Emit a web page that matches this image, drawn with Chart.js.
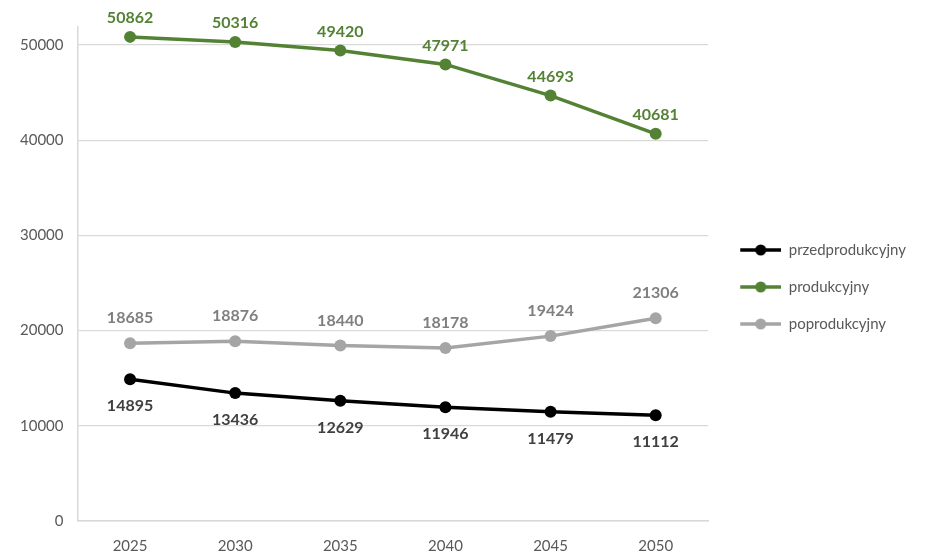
<!DOCTYPE html>
<html>
<head>
<meta charset="utf-8">
<script src="https://cdn.jsdelivr.net/npm/chart.js@4.4.1/dist/chart.umd.min.js"></script>
<style>
  html, body { margin: 0; padding: 0; background: #fff; }
  #wrap { width: 930px; height: 554px; }
</style>
</head>
<body>
<div id="wrap"><canvas id="line"></canvas></div>
<script>
const years = ['2025', '2030', '2035', '2040', '2045', '2050'];
const przedprodukcyjny = [14895, 13436, 12629, 11946, 11479, 11112];
const produkcyjny = [50862, 50316, 49420, 47971, 44693, 40681];
const poprodukcyjny = [18685, 18876, 18440, 18178, 19424, 21306];
const yTicks = [0, 10000, 20000, 30000, 40000, 50000];

const FONT = 'Lato, "Open Sans", sans-serif';

// legend icon: short line with a dot in the middle, like the office legend
function legendIcon(color) {
    const c = document.createElement('canvas');
    c.width = 51; c.height = 14;
    const g = c.getContext('2d');
    g.strokeStyle = color;
    g.lineWidth = 3.5;
    g.beginPath(); g.moveTo(10, 7); g.lineTo(51, 7); g.stroke();
    g.fillStyle = color;
    g.beginPath(); g.arc(30.5, 7, 5.5, 0, Math.PI * 2); g.fill();
    return c;
}

// value labels drawn next to every point
const valueLabels = {
    id: 'valueLabels',
    afterLayout(chart) {
        // legend sits a bit higher than the centre of the canvas
        chart.legend.top -= 12;
        chart.legend.bottom -= 12;
    },
    afterDatasetsDraw(chart) {
        const ctx = chart.ctx;
        ctx.save();
        ctx.font = 'bold 16px ' + FONT;
        ctx.textAlign = 'center';
        ctx.textBaseline = 'middle';
        chart.data.datasets.forEach((ds, i) => {
            const meta = chart.getDatasetMeta(i);
            ctx.fillStyle = ds.labelColor;
            meta.data.forEach((pt, j) => {
                ctx.fillText(ds.data[j], pt.x, pt.y + ds.labelOffset);
            });
        });
        ctx.restore();
    }
};

const series = [
    { label: 'przedprodukcyjny', data: przedprodukcyjny, color: '#000000', labelColor: '#404040', labelOffset: 27 },
    { label: 'produkcyjny', data: produkcyjny, color: '#548235', labelColor: '#548235', labelOffset: -19 },
    { label: 'poprodukcyjny', data: poprodukcyjny, color: '#A5A5A5', labelColor: '#7F7F7F', labelOffset: -25 }
];
const icons = series.map(s => legendIcon(s.color));

new Chart(document.getElementById('line'), {
    type: 'line',
    data: {
        labels: years,
        datasets: series.map(s => ({
            label: s.label,
            data: s.data,
            borderColor: s.color,
            backgroundColor: s.color,
            borderWidth: 3.5,
            pointRadius: 6,
            pointHoverRadius: 6,
            pointBackgroundColor: s.color,
            pointBorderWidth: 0,
            tension: 0,
            labelColor: s.labelColor,
            labelOffset: s.labelOffset
        }))
    },
    options: {
        responsive: true,
        maintainAspectRatio: false,
        animation: false,
        layout: { padding: { top: 27, left: 6, right: 14, bottom: -17 } },
        scales: {
            x: {
                offset: true,
                grid: { display: false, drawTicks: false },
                border: { display: true, color: '#D9D9D9', width: 1.5 },
                ticks: { color: '#595959', font: { family: FONT, size: 15 }, padding: 16, maxRotation: 0, autoSkip: false }
            },
            y: {
                min: 0,
                max: 51900,
                afterBuildTicks(axis) {
                    axis.ticks = yTicks.map(v => ({ value: v }));
                },
                grid: { color: '#D9D9D9', lineWidth: 1.2, drawTicks: false },
                border: { display: true, color: '#D9D9D9', width: 1.5 },
                ticks: { color: '#595959', font: { family: FONT, size: 15 }, padding: 14, callback: v => String(v) }
            }
        },
        plugins: {
            tooltip: { enabled: false },
            legend: {
                position: 'right',
                labels: {
                    usePointStyle: true,
                    pointStyleWidth: 51,
                    padding: 22,
                    color: '#595959',
                    font: { family: FONT, size: 15 },
                    generateLabels(chart) {
                        return Chart.defaults.plugins.legend.labels.generateLabels(chart)
                            .map((l, i) => Object.assign(l, { pointStyle: icons[i], fontColor: '#595959' }));
                    }
                }
            }
        }
    },
    plugins: [valueLabels]
});
</script>
</body>
</html>
